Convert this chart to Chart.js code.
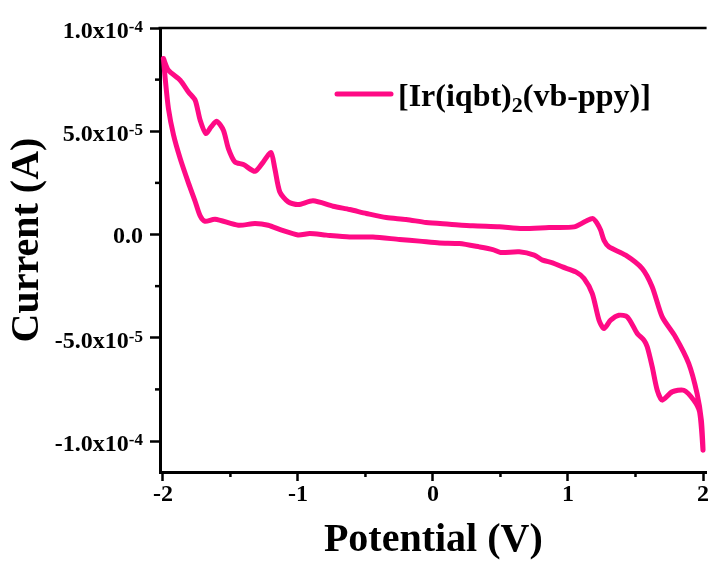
<!DOCTYPE html>
<html>
<head>
<meta charset="utf-8">
<title>Cyclic voltammogram</title>
<script src="https://cdn.jsdelivr.net/npm/chart.js@4/dist/chart.umd.min.js"></script>
<style>
  html, body { margin: 0; padding: 0; background: #ffffff; }
  #cv { display: block; }
</style>
</head>
<body>
<canvas id="cv" width="708" height="561"></canvas>
<script>
// Cyclic voltammogram: forward scan (-2 V -> +2 V) followed by the return scan.
const potentialV = [
  -1.996, -1.959, -1.872, -1.811, -1.761, -1.724, -1.682, -1.643, -1.601, -1.552,
  -1.515, -1.466, -1.404, -1.318, -1.257, -1.200, -1.171, -1.134, -1.072, -0.999,
  -0.888, -0.740, -0.617, -0.493, -0.346, -0.198, -0.050, 0.122, 0.295, 0.491,
  0.663, 0.860, 1.045, 1.131, 1.185, 1.217, 1.242, 1.267, 1.304, 1.427,
  1.550, 1.624, 1.698, 1.796, 1.894, 1.956, 1.988, 2.000,
  1.975, 1.931, 1.857, 1.771, 1.698, 1.661, 1.624, 1.587, 1.563, 1.513,
  1.440, 1.377, 1.316, 1.267, 1.230, 1.180, 1.119, 1.058, 0.959, 0.886,
  0.812, 0.750, 0.639, 0.500, 0.443, 0.343, 0.196, 0.048, -0.100, -0.247,
  -0.445, -0.617, -0.789, -0.912, -0.999, -1.121, -1.220, -1.318, -1.441, -1.614,
  -1.688, -1.724, -1.761, -1.811, -1.872, -1.921, -1.959, -1.983, -1.996
];
const currentA = [
  8.52e-5, 7.95e-5, 7.47e-5, 6.90e-5, 6.50e-5, 5.53e-5, 4.89e-5, 5.21e-5, 5.48e-5, 5.05e-5,
  4.16e-5, 3.51e-5, 3.39e-5, 3.06e-5, 3.51e-5, 3.97e-5, 3.19e-5, 2.06e-5, 1.58e-5, 1.45e-5,
  1.63e-5, 1.37e-5, 1.21e-5, 1.02e-5, 0.82e-5, 0.73e-5, 0.58e-5, 0.50e-5, 0.42e-5, 0.37e-5,
  0.29e-5, 0.34e-5, 0.37e-5, 0.64e-5, 0.77e-5, 0.53e-5, 0.21e-5, -0.28e-5, -0.60e-5, -1.00e-5,
  -1.65e-5, -2.54e-5, -3.99e-5, -4.96e-5, -6.24e-5, -7.70e-5, -8.99e-5, -10.44e-5,
  -8.60e-5, -8.02e-5, -7.54e-5, -7.62e-5, -8.02e-5, -7.54e-5, -6.41e-5, -5.44e-5, -5.12e-5, -4.79e-5,
  -3.99e-5, -3.91e-5, -4.15e-5, -4.55e-5, -4.15e-5, -2.86e-5, -2.13e-5, -1.81e-5, -1.57e-5, -1.37e-5,
  -1.24e-5, -1.00e-5, -0.84e-5, -0.87e-5, -0.73e-5, -0.60e-5, -0.44e-5, -0.41e-5, -0.32e-5, -0.24e-5,
  -0.12e-5, -0.12e-5, -0.03e-5, 0.05e-5, -0.02e-5, 0.21e-5, 0.45e-5, 0.53e-5, 0.45e-5, 0.74e-5,
  0.64e-5, 0.90e-5, 1.60e-5, 2.50e-5, 3.68e-5, 4.81e-5, 6.10e-5, 7.55e-5, 8.52e-5
];

const xTickValues = [-2, -1, 0, 1, 2];
const xTickLabels = ['-2', '-1', '0', '1', '2'];
const xMinorTicks = [-1.5, -0.5, 0.5, 1.5];
const yTickValues = [-1.0e-4, -5.0e-5, 0, 5.0e-5, 1.0e-4];
// y tick labels as mantissa "x10" plus a superscript exponent
const yTickMantissa = ['-1.0x10', '-5.0x10', '0.0', '5.0x10', '1.0x10'];
const yTickExponent = ['-4', '-5', '', '-5', '-4'];
const yMinorTicks = [-7.5e-5, -2.5e-5, 2.5e-5, 7.5e-5];

const seriesLabel = '[Ir(iqbt)\u2082(vb-ppy)]';
// legend text pieces: normal, subscript, normal
const legendParts = ['[Ir(iqbt)', '2', '(vb-ppy)]'];

const xTitle = 'Potential (V)';
const yTitle = 'Current (A)';

const lineColor = '#FF0A85';
const serif = "'Liberation Serif', 'Times New Roman', serif";

// Minor ticks, top frame line, y tick labels with exponents, y title and legend
const framePlugin = {
  id: 'frameExtras',
  afterDraw(chart) {
    const ctx = chart.ctx;
    const area = chart.chartArea;
    const xs = chart.scales.x, ys = chart.scales.y;
    ctx.save();
    ctx.strokeStyle = '#000';
    ctx.lineWidth = 2.5;
    ctx.lineCap = 'butt';
    ctx.beginPath();
    ctx.moveTo(area.left - 1.5, area.top);
    ctx.lineTo(area.right, area.top);
    ctx.stroke();

    xMinorTicks.forEach(v => {
      const px = xs.getPixelForValue(v);
      ctx.beginPath();
      ctx.moveTo(px, area.bottom);
      ctx.lineTo(px, area.bottom + 5);
      ctx.stroke();
    });
    yMinorTicks.forEach(v => {
      const py = ys.getPixelForValue(v);
      ctx.beginPath();
      ctx.moveTo(area.left, py);
      ctx.lineTo(area.left - 5, py);
      ctx.stroke();
    });

    // y tick labels, right-aligned against the tick marks
    ctx.fillStyle = '#000';
    ctx.textBaseline = 'alphabetic';
    ctx.textAlign = 'right';
    const labelRight = area.left - 17;
    yTickValues.forEach((v, i) => {
      const py = ys.getPixelForValue(v);
      const exp = yTickExponent[i];
      let right = labelRight;
      if (exp) {
        ctx.font = 'bold 17px ' + serif;
        ctx.fillText(exp, right, py + 4);
        right -= ctx.measureText(exp).width;
        ctx.font = 'bold 24px ' + serif;
        ctx.fillText(yTickMantissa[i], right, py + 10);
      } else {
        ctx.font = 'bold 24px ' + serif;
        ctx.fillText(yTickMantissa[i], right, py + 8);
      }
    });

    // y axis title
    ctx.save();
    ctx.translate(28, (area.top + area.bottom) / 2 - 10);
    ctx.rotate(-Math.PI / 2);
    ctx.textAlign = 'center';
    ctx.textBaseline = 'middle';
    ctx.font = 'bold 40px ' + serif;
    ctx.fillText(yTitle, 0, 0);
    ctx.restore();

    // legend
    const lx = area.left + 177, ly = area.top + 66;
    ctx.strokeStyle = lineColor;
    ctx.lineWidth = 5;
    ctx.lineCap = 'round';
    ctx.beginPath();
    ctx.moveTo(lx, ly);
    ctx.lineTo(lx + 54, ly);
    ctx.stroke();

    ctx.textAlign = 'left';
    ctx.textBaseline = 'alphabetic';
    let tx = lx + 61;
    const base = ly + 12;
    ctx.font = 'bold 32px ' + serif;
    ctx.fillText(legendParts[0], tx, base);
    tx += ctx.measureText(legendParts[0]).width;
    ctx.font = 'bold 22px ' + serif;
    ctx.fillText(legendParts[1], tx, base + 6);
    tx += ctx.measureText(legendParts[1]).width;
    ctx.font = 'bold 32px ' + serif;
    ctx.fillText(legendParts[2], tx, base);
    ctx.restore();
  }
};

const chart = new Chart(document.getElementById('cv'), {
  type: 'scatter',
  data: {
    datasets: [{
      label: seriesLabel,
      data: potentialV.map((v, i) => ({ x: v, y: currentA[i] })),
      showLine: true,
      borderColor: lineColor,
      backgroundColor: lineColor,
      borderWidth: 5,
      pointRadius: 0,
      tension: 0.25,
      borderCapStyle: 'round',
      borderJoinStyle: 'round',
      fill: false
    }]
  },
  options: {
    responsive: false,
    animation: false,
    devicePixelRatio: 1,
    layout: { padding: { top: 28, right: 0, left: 0, bottom: 0 } },
    plugins: {
      legend: { display: false },
      tooltip: { enabled: false }
    },
    scales: {
      x: {
        type: 'linear',
        min: -2.0215,
        max: 2.0266,
        afterBuildTicks: s => { s.ticks = xTickValues.map(v => ({ value: v })); },
        afterFit: s => { s.height = 89; },
        border: { display: true, color: '#000', width: 3 },
        grid: { drawOnChartArea: false, drawTicks: true, tickLength: 9, tickWidth: 2.5, tickColor: '#000' },
        ticks: {
          color: '#000',
          font: { family: serif, size: 24, weight: 'bold' },
          padding: -1,
          maxRotation: 0,
          autoSkip: false,
          callback: v => xTickLabels[xTickValues.indexOf(v)]
        },
        title: {
          display: true,
          text: xTitle,
          color: '#000',
          font: { family: serif, size: 40, weight: 'bold', lineHeight: 1.0 },
          padding: { top: 0, bottom: 0 }
        }
      },
      y: {
        type: 'linear',
        min: -1.15e-4,
        max: 1.0e-4,
        afterBuildTicks: s => { s.ticks = yTickValues.map(v => ({ value: v })); },
        afterFit: s => { s.width = 160; },
        border: { display: true, color: '#000', width: 3 },
        grid: { drawOnChartArea: false, drawTicks: true, tickLength: 10, tickWidth: 2.5, tickColor: '#000' },
        ticks: { display: false },
        title: { display: false }
      }
    }
  },
  plugins: [framePlugin]
});
</script>
</body>
</html>
